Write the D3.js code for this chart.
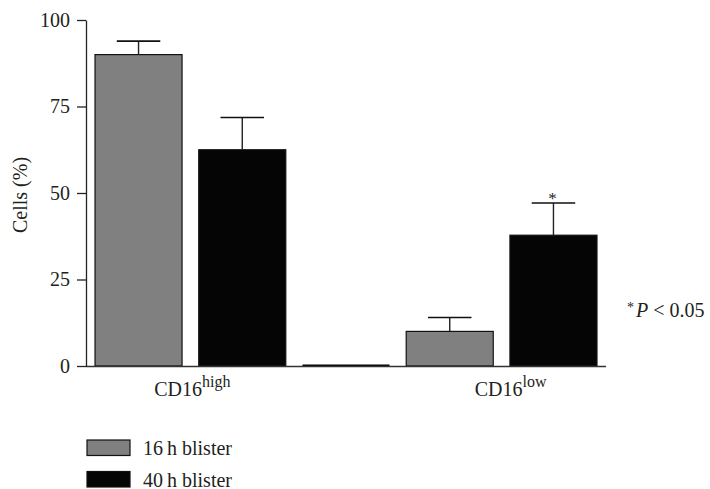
<!DOCTYPE html>
<html>
<head>
<meta charset="utf-8">
<script src="https://cdn.jsdelivr.net/npm/d3@7"></script>
<style>
  html, body { margin: 0; padding: 0; background: #fff; }
  svg { display: block; }
  svg text { font-family: "Liberation Serif", "DejaVu Serif", "Times New Roman", serif; }
</style>
</head>
<body>
<svg id="chart" width="710" height="489"></svg>
<script>
// ---- data ----
const categories = ["CD16", "CD16"];
const categorySup = ["high", "low"];
const seriesNames = ["16\u2009h blister", "40\u2009h blister"];
const seriesColors = ["#808080", "#050505"];
const values16h = [90.0, 10.0];
const values40h = [62.5, 37.8];
const errors16h = [3.9, 4.0];
const errors40h = [9.3, 9.3];
const significant40h = [false, true];
const yTicks = [0, 25, 50, 75, 100];
const yLabel = "Cells (%)";
const pNote = "P < 0.05";

// ---- layout ----
const FONT = "'Liberation Serif', 'DejaVu Serif', 'Times New Roman', serif";
const svg = d3.select("#chart").attr("font-family", FONT);
const x0 = 86, x1 = 606, yTop = 20, yBottom = 366;
const textColor = "#231f20";

const y = d3.scaleLinear().domain([0, 100]).range([yBottom, yTop]);

// slots: two bars per category, with an empty (zero) spacer bar between groups
const slots = [];
const bars = [];
categories.forEach((c, i) => {
  if (i > 0) { slots.push("spacer" + i); bars.push({ key: "spacer" + i, value: 0, spacer: true }); }
  [values16h, values40h].forEach((vals, s) => {
    const key = c + categorySup[i] + "|" + s;
    slots.push(key);
    bars.push({
      key, cat: i, s, value: vals[i],
      err: [errors16h, errors40h][s][i],
      sig: s === 1 ? significant40h[i] : false
    });
  });
});

const x = d3.scaleBand().domain(slots).range([x0, x1])
  .paddingInner(0.161).paddingOuter(0.087);

// bars
const g = svg.append("g");
g.selectAll("rect.bar").data(bars.filter(d => !d.spacer)).join("rect")
  .attr("class", "bar")
  .attr("x", d => x(d.key))
  .attr("width", x.bandwidth())
  .attr("y", d => y(d.value))
  .attr("height", d => y(0) - y(d.value))
  .attr("fill", d => seriesColors[d.s])
  .attr("stroke", "#111")
  .attr("stroke-width", 1.2);

// spacer bar (value 0) drawn as a thick line at baseline
g.selectAll("line.spacer").data(bars.filter(d => d.spacer)).join("line")
  .attr("class", "spacer")
  .attr("x1", d => x(d.key))
  .attr("x2", d => x(d.key) + x.bandwidth())
  .attr("y1", d => y(d.value) - 0.5)
  .attr("y2", d => y(d.value) - 0.5)
  .attr("stroke", "#000")
  .attr("stroke-width", 2.2);

// error bars (upper only)
const eb = bars.filter(d => !d.spacer);
g.selectAll("line.errv").data(eb).join("line")
  .attr("x1", d => x(d.key) + x.bandwidth() / 2)
  .attr("x2", d => x(d.key) + x.bandwidth() / 2)
  .attr("y1", d => y(d.value))
  .attr("y2", d => y(d.value + d.err))
  .attr("stroke", "#222").attr("stroke-width", 1.4);
g.selectAll("line.errc").data(eb).join("line")
  .attr("x1", d => x(d.key) + x.bandwidth() / 4)
  .attr("x2", d => x(d.key) + x.bandwidth() * 3 / 4)
  .attr("y1", d => y(d.value + d.err))
  .attr("y2", d => y(d.value + d.err))
  .attr("stroke", "#111").attr("stroke-width", 1.6);

// significance asterisks
g.selectAll("text.sig").data(eb.filter(d => d.sig)).join("text")
  .attr("x", d => x(d.key) + x.bandwidth() / 2 - 1)
  .attr("y", d => y(d.value + d.err) + 1)
  .attr("text-anchor", "middle")
  .attr("font-family", FONT)
  .attr("font-size", 17)
  .attr("fill", textColor)
  .text("*");

// x axis baseline
svg.append("line")
  .attr("x1", x0).attr("x2", x1)
  .attr("y1", y(0) + 0.5).attr("y2", y(0) + 0.5)
  .attr("stroke", "#333").attr("stroke-width", 1.3);

// y axis
const yAxis = d3.axisLeft(y).tickValues(yTicks).tickSize(9).tickPadding(7).tickSizeOuter(0);
const ya = svg.append("g").attr("transform", `translate(${x0},0)`).call(yAxis)
  .attr("font-family", FONT).attr("font-size", 20);
ya.select(".domain").attr("stroke", "#222").attr("stroke-width", 1.3);
ya.selectAll(".tick line").attr("stroke", "#222").attr("stroke-width", 1.3);
ya.selectAll(".tick text")
  .attr("font-family", FONT)
  .attr("font-size", 20).attr("fill", textColor);

// y label
svg.append("text")
  .attr("transform", `translate(27,${(yTop + yBottom) / 2 + 2}) rotate(-90)`)
  .attr("text-anchor", "middle")
  .attr("font-family", FONT)
  .attr("font-size", 20)
  .attr("fill", textColor)
  .text(yLabel);

// category labels
const labelOffsets = [2, 9];
categories.forEach((c, i) => {
  const k0 = c + categorySup[i] + "|0", k1 = c + categorySup[i] + "|1";
  const cx = (x(k0) + x(k1) + x.bandwidth()) / 2 + labelOffsets[i];
  const t = svg.append("text")
    .attr("x", cx).attr("y", 396)
    .attr("text-anchor", "middle")
    .attr("font-family", FONT)
    .attr("font-size", 20)
    .attr("fill", textColor);
  t.append("tspan").text(c);
  t.append("tspan").attr("font-size", 16).attr("dy", -9.5).text(categorySup[i]);
});

// p-value note
const pn = svg.append("text")
  .attr("x", 627).attr("y", 317)
  .attr("font-family", FONT)
  .attr("font-size", 20)
  .attr("fill", textColor);
pn.append("tspan").attr("font-size", 14).attr("dy", -5).text("*");
pn.append("tspan").attr("dy", 5).attr("dx", 2).attr("font-style", "italic").text("P");
pn.append("tspan").text(pNote.slice(1));

// legend
const legend = svg.append("g");
seriesNames.forEach((name, i) => {
  const ly = 440 + i * 31.5;
  legend.append("rect")
    .attr("x", 87).attr("y", ly)
    .attr("width", 43).attr("height", 15.5)
    .attr("fill", seriesColors[i])
    .attr("stroke", "#111").attr("stroke-width", 1.2);
  legend.append("text")
    .attr("x", 143).attr("y", ly + 15)
    .attr("font-family", FONT)
    .attr("font-size", 20)
    .attr("fill", textColor)
    .text(name);
});
</script>
</body>
</html>
